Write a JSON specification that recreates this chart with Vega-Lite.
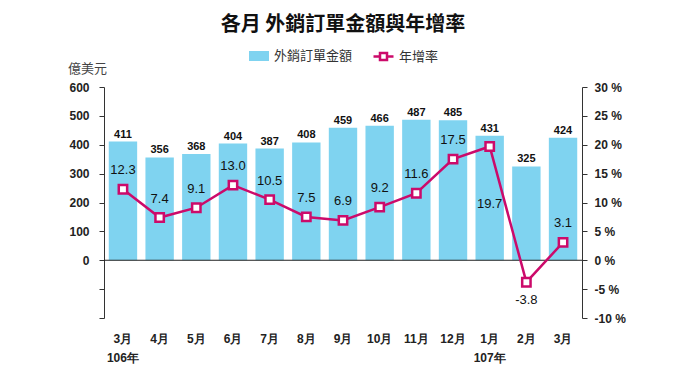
{
  "$schema": "https://vega.github.io/schema/vega-lite/v6.json",
  "width": 478,
  "height": 231,
  "autosize": {"type": "none"},
  "padding": {"left": 104, "top": 87, "right": 98, "bottom": 65},
  "background": "white",
  "title": {"text": "各月 外銷訂單金額與年增率", "font": "Noto Sans CJK TC", "fontSize": 20, "fontWeight": "bold", "color": "#111111", "anchor": "middle", "offset": 10},
  "config": {"view": {"stroke": null}, "font": "Liberation Sans Narrow, Liberation Sans, sans-serif", "axis": {"labelOverlap": false, "labelBound": false}, "axisY": {"labelOverlap": false}, "axisQuantitative": {"labelOverlap": false}},
  "data": {"values": [
    {"month": "106年3月", "amount": 411, "rate": 12.3},
    {"month": "106年4月", "amount": 356, "rate": 7.4},
    {"month": "106年5月", "amount": 368, "rate": 9.1},
    {"month": "106年6月", "amount": 404, "rate": 13.0},
    {"month": "106年7月", "amount": 387, "rate": 10.5},
    {"month": "106年8月", "amount": 408, "rate": 7.5},
    {"month": "106年9月", "amount": 459, "rate": 6.9},
    {"month": "106年10月", "amount": 466, "rate": 9.2},
    {"month": "106年11月", "amount": 487, "rate": 11.6},
    {"month": "106年12月", "amount": 485, "rate": 17.5},
    {"month": "107年1月", "amount": 431, "rate": 19.7},
    {"month": "107年2月", "amount": 325, "rate": -3.8},
    {"month": "107年3月", "amount": 424, "rate": 3.1}
  ]},
  "layer": [
    {
      "layer": [
        {
          "mark": {"type": "bar"},
          "encoding": {
            "x": {"field": "month", "type": "ordinal", "sort": null, "scale": {"paddingInner": 0.226, "paddingOuter": 0.13},
              "axis": {"title": null, "domain": false, "ticks": false, "tickSize": 0, "labelAngle": 0, "labelPadding": 15, "labelOverlap": false, "labelBaseline": "top", "labelLineHeight": 19, "labelFontSize": 12, "labelFontWeight": "bold", "labelColor": "#222222",
                "labelExpr": "datum.value == '106年3月' ? ['3月','106年'] : datum.value == '107年1月' ? ['1月','107年'] : substring(datum.value, 4)"}},
            "y": {"field": "amount", "type": "quantitative", "scale": {"domain": [-200, 600], "nice": false},
              "axis": {"orient": "left", "values": [-200, -100, 0, 100, 200, 300, 400, 500, 600], "tickCount": 9, "labelOverlap": false, "labelExpr": "datum.value < 0 ? '' : datum.label", "grid": false, "domainColor": "#333333", "tickColor": "#333333", "tickSize": 5, "labelPadding": 10, "labelFontSize": 12, "labelFontWeight": "bold", "labelColor": "#222222",
                "title": "億美元", "titleAngle": 0, "titleX": -17, "titleY": -19, "titleAlign": "center", "titleBaseline": "middle", "titleFont": "Noto Sans CJK TC", "titleFontSize": 13, "titleFontWeight": "normal", "titleColor": "#444444"}},
            "fill": {"datum": "外銷訂單金額", "type": "nominal", "scale": {"range": ["#7fd3f0"]},
              "legend": {"orient": "none", "legendX": 144, "legendY": -42, "title": null, "symbolType": "M-1,-0.5H1V0.5H-1Z", "symbolSize": 400, "labelFont": "Noto Sans CJK TC", "labelFontSize": 13, "labelColor": "#333333"}}
          }
        },
        {
          "mark": {"type": "text", "baseline": "bottom", "dy": -2, "fontSize": 11, "fontWeight": "bold", "color": "#111111"},
          "encoding": {
            "x": {"field": "month", "type": "ordinal", "sort": null},
            "y": {"field": "amount", "type": "quantitative", "axis": {"labelOverlap": false}},
            "text": {"field": "amount", "type": "quantitative"}
          }
        },
        {
          "data": {"values": [{"amount": 0}]},
          "mark": {"type": "rule", "color": "#222222", "strokeWidth": 1},
          "encoding": {"y": {"field": "amount", "type": "quantitative", "axis": {"labelOverlap": false}}}
        }
      ]
    },
    {
      "transform": [{"calculate": "replace(format(datum.rate, '.1f'), '\u2212', '-')", "as": "rateLabel"}],
      "layer": [
        {
          "mark": {"type": "line", "strokeWidth": 2.5},
          "encoding": {
            "x": {"field": "month", "type": "ordinal", "sort": null},
            "y": {"field": "rate", "type": "quantitative", "scale": {"domain": [-10, 30], "nice": false},
              "axis": {"orient": "right", "title": null, "values": [-10, -5, 0, 5, 10, 15, 20, 25, 30], "tickCount": 9, "labelOverlap": false, "labelExpr": "datum.value + ' %'", "grid": false, "domainColor": "#333333", "tickColor": "#333333", "tickSize": 5, "labelPadding": 7, "labelFontSize": 12, "labelFontWeight": "bold", "labelColor": "#222222"}},
            "stroke": {"datum": "年增率", "type": "nominal", "scale": {"range": ["#cc0a6a"]},
              "legend": {"orient": "none", "legendX": 268, "legendY": -42, "title": null, "symbolType": "M-1,0H-0.35M0.35,0H1M-0.35,-0.35H0.35V0.35H-0.35Z", "symbolSize": 400, "symbolStrokeWidth": 2.5, "labelFont": "Noto Sans CJK TC", "labelFontSize": 13, "labelColor": "#333333",
                "encode": {"symbols": {"update": {"fill": {"value": "white"}, "strokeWidth": {"value": 2.5}}}}}}
          }
        },
        {
          "mark": {"type": "point", "shape": "square", "filled": true, "fill": "white", "size": 70, "strokeWidth": 2.5, "opacity": 1},
          "encoding": {
            "x": {"field": "month", "type": "ordinal", "sort": null},
            "y": {"field": "rate", "type": "quantitative", "axis": {"labelOverlap": false}},
            "stroke": {"datum": "年增率", "type": "nominal"}
          }
        },
        {
          "transform": [{"filter": "datum.rate >= 0 && datum.rate < 19"}],
          "mark": {"type": "text", "baseline": "middle", "dy": -19, "fontSize": 13, "color": "#111111"},
          "encoding": {
            "x": {"field": "month", "type": "ordinal", "sort": null},
            "y": {"field": "rate", "type": "quantitative", "axis": {"labelOverlap": false}},
            "text": {"field": "rateLabel", "type": "nominal"}
          }
        },
        {
          "transform": [{"filter": "datum.rate < 0"}],
          "mark": {"type": "text", "baseline": "middle", "dy": 18, "fontSize": 13, "color": "#111111"},
          "encoding": {
            "x": {"field": "month", "type": "ordinal", "sort": null},
            "y": {"field": "rate", "type": "quantitative", "axis": {"labelOverlap": false}},
            "text": {"field": "rateLabel", "type": "nominal"}
          }
        },
        {
          "transform": [{"filter": "datum.rate >= 19"}],
          "mark": {"type": "text", "baseline": "middle", "dy": 58, "fontSize": 13, "color": "#111111"},
          "encoding": {
            "x": {"field": "month", "type": "ordinal", "sort": null},
            "y": {"field": "rate", "type": "quantitative", "axis": {"labelOverlap": false}},
            "text": {"field": "rateLabel", "type": "nominal"}
          }
        }
      ]
    }
  ],
  "resolve": {"scale": {"y": "independent"}}
}
